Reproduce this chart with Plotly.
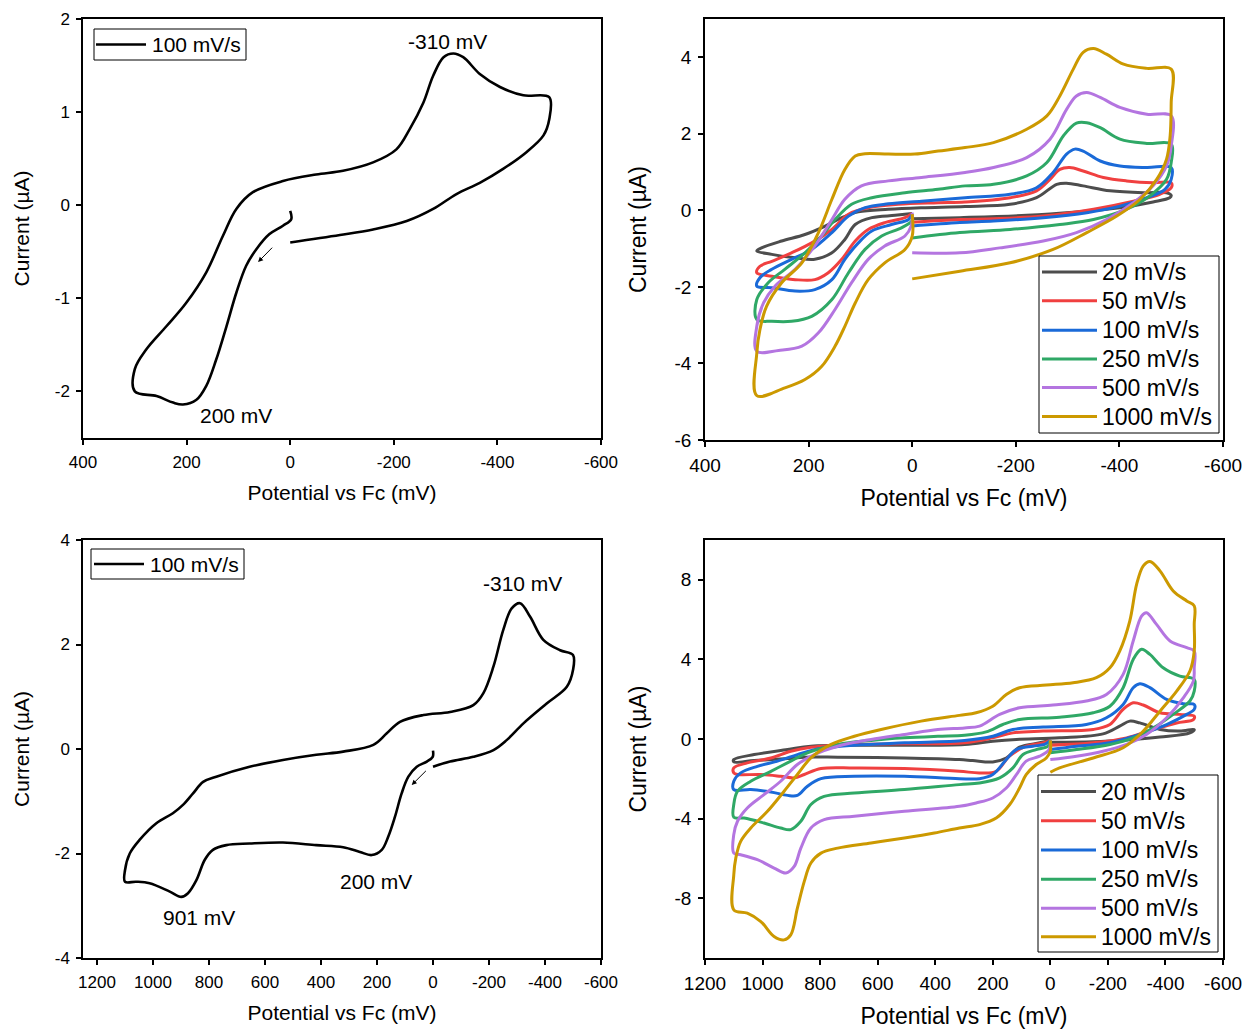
import plotly.graph_objects as go

# ---------------- Panel (a): top-left, 100 mV/s ----------------
tl_E = [0, -2, 14, 40, 65, 85, 104, 123, 143, 162, 181, 207, 226, 258, 300, 300, 278, 239, 201, 162, 130, 104, 72, 14,
        -50, -102, -160, -205, -231, -257, -276, -296, -315, -334, -366, -405, -450, -500, -500, -489, -456, -411, -366,
        -321, -276, -225, -160, -96, 0]
tl_I = [-0.06, -0.15, -0.22, -0.31, -0.47, -0.65, -0.94, -1.30, -1.66, -1.94, -2.09, -2.14, -2.12, -2.05, -2.00, -1.76,
        -1.55, -1.30, -1.05, -0.72, -0.33, -0.04, 0.14, 0.26, 0.33, 0.37, 0.46, 0.60, 0.82, 1.10, 1.39, 1.59, 1.63, 1.59,
        1.41, 1.27, 1.18, 1.16, 0.92, 0.75, 0.57, 0.39, 0.24, 0.12, -0.04, -0.17, -0.26, -0.32, -0.40]

# ---------------- Panel (b): top-right, scan-rate series ----------------
tr_E_20 = [0, 33, 78, 110, 130, 155, 188, 226, 271, 300, 291, 252, 207, 168, 136, 104, 46, -18, -102, -189, -240, -279,
           -298, -330, -382, -446, -491, -500, -497, -465, -401, -317, -221, -92, 0]
tr_I_20 = [-0.08, -0.13, -0.19, -0.37, -0.76, -1.11, -1.28, -1.24, -1.15, -1.06, -0.98, -0.80, -0.63, -0.41, -0.19,
           -0.04, 0.03, 0.07, 0.10, 0.16, 0.33, 0.68, 0.71, 0.64, 0.51, 0.46, 0.46, 0.39, 0.33, 0.22, 0.07, -0.04, -0.13,
           -0.19, -0.22]
tr_E_50 = [0, 14, 53, 85, 110, 136, 162, 188, 226, 271, 300, 294, 271, 233, 194, 155, 123, 85, 27, -50, -102, -189, -240,
           -266, -285, -304, -330, -369, -414, -465, -500, -500, -478, -427, -350, -253, -157, -92, 0]
tr_I_50 = [-0.08, -0.19, -0.32, -0.50, -0.80, -1.28, -1.63, -1.81, -1.81, -1.72, -1.63, -1.46, -1.33, -1.11, -0.85,
           -0.50, -0.10, 0.07, 0.16, 0.20, 0.22, 0.33, 0.51, 0.81, 1.07, 1.12, 1.03, 0.86, 0.77, 0.72, 0.72, 0.59, 0.42,
           0.24, 0.03, -0.15, -0.22, -0.24, -0.31]
tr_E_100 = [0, 7, 40, 78, 104, 130, 155, 188, 226, 271, 300, 294, 271, 233, 194, 155, 123, 91, 46, -18, -102, -189, -240,
            -272, -298, -314, -330, -363, -401, -453, -500, -500, -488, -453, -401, -337, -253, -157, -92, 0]
tr_I_100 = [-0.10, -0.24, -0.37, -0.54, -0.85, -1.28, -1.81, -2.07, -2.11, -2.02, -1.98, -1.76, -1.54, -1.28, -1.02,
            -0.58, -0.15, 0.07, 0.17, 0.24, 0.33, 0.42, 0.59, 0.99, 1.47, 1.60, 1.55, 1.29, 1.16, 1.12, 1.12, 0.81, 0.55,
            0.33, 0.11, -0.06, -0.19, -0.28, -0.32, -0.41]
tr_E_250 = [0, 1, 20, 59, 91, 123, 155, 194, 233, 271, 300, 300, 278, 246, 207, 175, 149, 117, 78, 14, -50, -102, -157,
            -221, -260, -292, -317, -337, -363, -401, -453, -500, -500, -491, -459, -414, -350, -285, -189, -92, 0]
tr_I_250 = [-0.10, -0.28, -0.45, -0.67, -1.02, -1.63, -2.33, -2.77, -2.90, -2.90, -2.85, -2.33, -1.89, -1.54, -1.11,
            -0.67, -0.24, 0.16, 0.33, 0.46, 0.55, 0.64, 0.68, 0.90, 1.25, 1.95, 2.28, 2.29, 2.16, 1.86, 1.75, 1.73, 1.25,
            0.81, 0.38, 0.03, -0.24, -0.37, -0.50, -0.58, -0.72]
tr_E_500 = [0, 2, 14, 53, 85, 117, 149, 181, 213, 258, 300, 300, 287, 265, 226, 188, 155, 130, 98, 46, -18, -102, -157,
            -221, -266, -298, -317, -337, -363, -401, -453, -500, -500, -491, -465, -427, -375, -317, -253, -169, -92, 0]
tr_I_500 = [-0.06, -0.41, -0.67, -0.93, -1.28, -1.89, -2.59, -3.20, -3.55, -3.66, -3.68, -3.03, -2.42, -1.98, -1.54,
            -0.93, -0.24, 0.29, 0.64, 0.77, 0.86, 0.99, 1.12, 1.38, 1.86, 2.64, 2.99, 3.08, 2.95, 2.69, 2.51, 2.47, 1.68,
            1.16, 0.64, 0.20, -0.24, -0.58, -0.80, -0.98, -1.11, -1.11]
tr_E_1000 = [0, 0, 14, 53, 85, 110, 130, 149, 175, 207, 246, 300, 300, 294, 281, 252, 213, 181, 155, 130, 110, 91, 46,
             -5, -50, -102, -157, -221, -260, -285, -311, -330, -350, -375, -408, -453, -500, -500, -498, -491, -472,
             -440, -395, -337, -272, -189, -92, 0]
tr_I_1000 = [-0.10, -0.67, -1.02, -1.37, -1.81, -2.42, -3.03, -3.55, -4.08, -4.42, -4.64, -4.84, -3.73, -3.12, -2.50,
             -1.89, -1.37, -0.58, 0.29, 1.07, 1.42, 1.48, 1.47, 1.47, 1.55, 1.64, 1.77, 2.12, 2.47, 2.99, 3.69, 4.13,
             4.23, 4.08, 3.82, 3.71, 3.69, 2.82, 1.95, 1.34, 0.81, 0.29, -0.15, -0.58, -1.02, -1.37, -1.59, -1.79]

# ---------------- Panel (c): bottom-left, 100 mV/s ----------------
bl_E = [0, 1, 22, 58, 88, 112, 136, 160, 183, 219, 261, 321, 417, 536, 655, 738, 786, 815, 845, 875, 899, 940, 1012,
        1060, 1100, 1100, 1083, 1048, 988, 929, 893, 857, 821, 774, 655, 536, 417, 321, 213, 165, 118, 34, -61, -144,
        -180, -216, -251, -281, -311, -347, -394, -454, -500, -500, -478, -406, -323, -263, -216, -144, -61, 0]
bl_I = [-0.03, -0.15, -0.24, -0.34, -0.53, -0.85, -1.30, -1.68, -1.93, -2.03, -1.97, -1.88, -1.84, -1.79, -1.81, -1.84,
        -1.93, -2.12, -2.51, -2.76, -2.83, -2.73, -2.57, -2.54, -2.54, -2.32, -2.00, -1.74, -1.42, -1.23, -1.07, -0.85,
        -0.63, -0.53, -0.34, -0.21, -0.11, -0.05, 0.08, 0.30, 0.52, 0.65, 0.71, 0.84, 1.07, 1.58, 2.28, 2.69, 2.79,
        2.53, 2.09, 1.89, 1.80, 1.51, 1.19, 0.87, 0.49, 0.17, -0.02, -0.15, -0.24, -0.34]

# ---------------- Panel (d): bottom-right, scan-rate series ----------------
br_E_20 = [0, 37, 107, 153, 200, 270, 316, 507, 739, 855, 913, 1029, 1100, 1100, 1029, 913, 832, 623, 298, 200, 118,
           -32, -183, -241, -276, -311, -381, -450, -500, -485, -381, -265, -149, 0]
br_I_20 = [-0.07, -0.19, -0.41, -0.95, -1.15, -1.08, -1.03, -0.95, -0.91, -0.91, -0.98, -1.08, -1.15, -1.03, -0.78,
           -0.53, -0.36, -0.31, -0.27, -0.11, -0.02, 0.06, 0.26, 0.65, 0.90, 0.81, 0.48, 0.40, 0.48, 0.31, 0.10, -0.05,
           -0.14, -0.16]
br_E_50 = [0, 26, 84, 142, 188, 246, 316, 507, 681, 797, 855, 890, 937, 1006, 1087, 1100, 1100, 1053, 971, 902, 832,
           681, 507, 298, 200, 130, 25, -149, -207, -253, -288, -323, -381, -450, -500, -497, -439, -358, -265, -149, 0]
br_I_50 = [-0.07, -0.19, -0.36, -0.86, -1.62, -1.70, -1.62, -1.48, -1.45, -1.48, -1.78, -1.95, -1.87, -1.78, -1.78,
           -1.70, -1.45, -1.20, -0.95, -0.61, -0.41, -0.27, -0.24, -0.19, 0.06, 0.31, 0.40, 0.48, 0.73, 1.49, 1.82, 1.71,
           1.32, 1.24, 1.15, 0.98, 0.81, 0.48, 0.06, -0.19, -0.31]
br_E_100 = [0, 20, 61, 118, 153, 200, 246, 316, 507, 681, 797, 844, 879, 913, 971, 1041, 1100, 1100, 1076, 1018, 948,
            879, 820, 681, 507, 298, 200, 130, 25, -125, -195, -253, -288, -311, -346, -404, -462, -500, -500, -474,
            -404, -311, -207, -91, 0]
br_I_100 = [-0.07, -0.27, -0.36, -0.53, -1.03, -1.78, -1.99, -1.99, -1.87, -1.87, -1.99, -2.37, -2.83, -2.83, -2.66,
            -2.54, -2.54, -2.12, -1.70, -1.37, -1.11, -0.78, -0.53, -0.31, -0.19, -0.07, 0.14, 0.48, 0.60, 0.73, 1.07,
            1.74, 2.58, 2.78, 2.58, 1.99, 1.77, 1.74, 1.49, 1.24, 0.73, 0.23, -0.19, -0.36, -0.53]
br_E_250 = [0, 8, 49, 95, 130, 176, 246, 316, 507, 681, 786, 832, 867, 902, 937, 995, 1064, 1100, 1100, 1087, 1041, 971,
            902, 844, 739, 623, 507, 391, 298, 223, 165, 107, -32, -149, -207, -253, -288, -317, -346, -392, -450, -500,
            -500, -485, -427, -358, -288, -207, -91, 0]
br_I_250 = [-0.07, -0.36, -0.53, -0.78, -1.45, -1.95, -2.21, -2.29, -2.54, -2.71, -2.88, -3.29, -4.13, -4.55, -4.47,
            -4.22, -3.97, -3.93, -3.29, -2.62, -2.12, -1.62, -1.11, -0.69, -0.27, -0.07, 0.06, 0.14, 0.19, 0.36, 0.73,
            0.98, 1.10, 1.32, 1.65, 2.58, 4.00, 4.51, 4.25, 3.58, 3.16, 3.00, 2.41, 1.91, 1.24, 0.56, 0.06, -0.27, -0.53,
            -0.69]
br_E_500 = [0, 4, 37, 84, 118, 153, 200, 258, 316, 507, 681, 786, 832, 867, 890, 919, 960, 1018, 1076, 1100, 1100, 1087,
            1053, 995, 937, 879, 820, 739, 623, 507, 391, 298, 246, 176, 107, -9, -125, -195, -253, -288, -317, -334,
            -369, -416, -474, -500, -500, -497, -462, -404, -334, -265, -183, -91, 0]
br_I_500 = [-0.07, -0.52, -0.86, -1.11, -1.79, -2.46, -2.96, -3.21, -3.38, -3.63, -3.88, -4.05, -4.47, -5.48, -6.40,
            -6.73, -6.48, -6.06, -5.81, -5.73, -4.80, -4.13, -3.46, -2.79, -2.12, -1.28, -0.78, -0.36, -0.02, 0.23, 0.48,
            0.56, 0.65, 1.24, 1.57, 1.71, 1.91, 2.24, 3.25, 4.93, 6.18, 6.35, 5.76, 4.93, 4.59, 4.42, 3.58, 2.91, 2.07,
            1.07, 0.23, -0.27, -0.61, -0.86, -1.03]
br_E_1000 = [0, 0, 14, 49, 84, 107, 141, 188, 246, 316, 403, 507, 623, 739, 797, 832, 855, 879, 902, 925, 960, 1006,
             1053, 1100, 1100, 1093, 1076, 1041, 983, 925, 879, 832, 762, 681, 588, 449, 316, 258, 200, 153, 107, 14,
             -79, -160, -207, -241, -276, -300, -323, -346, -381, -427, -474, -500, -500, -500, -485, -439, -381, -323,
             -253, -149, -32, 0]
br_I_1000 = [-0.07, -0.61, -0.95, -1.28, -1.79, -2.46, -3.29, -3.97, -4.30, -4.47, -4.72, -4.97, -5.22, -5.48, -5.73,
             -6.23, -7.15, -8.50, -9.84, -10.09, -9.92, -9.17, -8.75, -8.58, -6.82, -5.98, -5.14, -4.47, -3.63, -2.62,
             -1.78, -0.95, -0.27, 0.14, 0.48, 0.90, 1.19, 1.32, 1.65, 2.24, 2.58, 2.71, 2.83, 3.08, 3.58, 4.42, 5.93,
             7.78, 8.70, 8.92, 8.45, 7.44, 6.94, 6.69, 5.76, 4.42, 3.42, 2.41, 1.40, 0.40, -0.44, -0.95, -1.45, -1.67]

single_label = "100 mV/s"
rate_labels = ["20 mV/s", "50 mV/s", "100 mV/s", "250 mV/s", "500 mV/s", "1000 mV/s"]
rate_colors = ["#4d4d4d", "#f04040", "#1a6ad8", "#2fa866", "#b475e0", "#cc9900"]

# tick labels (hyphen minus as in the original)
tl_xticks = [400, 200, 0, -200, -400, -600]
tl_yticks = [2, 1, 0, -1, -2]
tr_yticks = [4, 2, 0, -2, -4, -6]
bl_xticks = [1200, 1000, 800, 600, 400, 200, 0, -200, -400, -600]
bl_yticks = [4, 2, 0, -2, -4]
br_yticks = [8, 4, 0, -4, -8]

FONT = "Liberation Sans, Arial, sans-serif"
W, H = 1248, 1029
fig = go.Figure()

LW_SINGLE = 2.6
LW_MULTI = 3
SMOOTH = 1.0

# panel a
fig.add_trace(go.Scatter(x=tl_E, y=tl_I, mode="lines", name=single_label, xaxis="x", yaxis="y", showlegend=False,
                         line=dict(color="black", width=LW_SINGLE, shape="spline", smoothing=SMOOTH)))
# panel b
tr_sets = [(tr_E_20, tr_I_20), (tr_E_50, tr_I_50), (tr_E_100, tr_I_100), (tr_E_250, tr_I_250),
           (tr_E_500, tr_I_500), (tr_E_1000, tr_I_1000)]
for (E, I), lab, col in zip(tr_sets, rate_labels, rate_colors):
    fig.add_trace(go.Scatter(x=E, y=I, mode="lines", name=lab, xaxis="x2", yaxis="y2", showlegend=False,
                             line=dict(color=col, width=LW_MULTI, shape="spline", smoothing=SMOOTH)))
# panel c
fig.add_trace(go.Scatter(x=bl_E, y=bl_I, mode="lines", name=single_label, xaxis="x3", yaxis="y3", showlegend=False,
                         line=dict(color="black", width=LW_SINGLE, shape="spline", smoothing=SMOOTH)))
# panel d
br_sets = [(br_E_20, br_I_20), (br_E_50, br_I_50), (br_E_100, br_I_100), (br_E_250, br_I_250),
           (br_E_500, br_I_500), (br_E_1000, br_I_1000)]
for (E, I), lab, col in zip(br_sets, rate_labels, rate_colors):
    fig.add_trace(go.Scatter(x=E, y=I, mode="lines", name=lab, xaxis="x4", yaxis="y4", showlegend=False,
                             line=dict(color=col, width=LW_MULTI, shape="spline", smoothing=SMOOTH)))


def ax(domain, rng, ticks, tick_size, title, title_size, anchor, standoff, lab_standoff):
    return dict(domain=domain, range=rng, anchor=anchor, tickvals=ticks, ticktext=[str(t) for t in ticks],
                ticks="outside", ticklen=5, tickwidth=1.5, tickcolor="black", showline=True, linewidth=1.5,
                linecolor="black", mirror=True, showgrid=False, zeroline=False, automargin=False,
                ticklabelstandoff=lab_standoff,
                tickfont=dict(family=FONT, size=tick_size, color="black"),
                title=dict(text=title, font=dict(family=FONT, size=title_size, color="black"), standoff=standoff))


XT = "Potential vs Fc (mV)"
YT = "Current (µA)"
dxL = [83 / W, 601 / W]
dxR = [705 / W, 1223 / W]
dyT = [1 - 438 / H, 1 - 19 / H]
dyTR = [1 - 440 / H, 1 - 19 / H]
dyB = [1 - 958 / H, 1 - 540 / H]

fig.update_layout(
    width=W, height=H, margin=dict(l=0, r=0, t=0, b=0),
    paper_bgcolor="white", plot_bgcolor="white",
    font=dict(family=FONT, color="black"),
    showlegend=False,
    xaxis=ax(dxL, [400, -600], tl_xticks, 17, XT, 21, "y", 14, 3),
    yaxis=ax(dyT, [-2.5, 2], tl_yticks, 17, YT, 21, "x", 19, 3),
    xaxis2=ax(dxR, [400, -600], tl_xticks, 19, XT, 23, "y2", 15, 2),
    yaxis2=ax(dyTR, [-6, 5], tr_yticks, 19, YT, 23, "x2", 21, 3),
    xaxis3=ax(dxL, [1250, -600], bl_xticks, 17, XT, 21, "y3", 14, 3),
    yaxis3=ax(dyB, [-4, 4], bl_yticks, 17, YT, 21, "x3", 19, 3),
    xaxis4=ax(dxR, [1200, -600], bl_xticks, 19, XT, 23, "y4", 16, 2),
    yaxis4=ax(dyB, [-11, 10], br_yticks, 19, YT, 23, "x4", 21, 3),
)

# ---- legends drawn as boxed key lines + text (paper coordinates) ----
def px_x(v):
    return v / W


def px_y(v):
    return 1 - v / H


def add_legend(box, line_x0, line_x1, text_x, row_ys, labels, colors, font_size, lw):
    fig.add_shape(type="rect", xref="paper", yref="paper", x0=px_x(box[0]), x1=px_x(box[1]),
                  y0=px_y(box[3]), y1=px_y(box[2]), line=dict(color="black", width=1), fillcolor="white",
                  layer="above")
    for ry, lab, col in zip(row_ys, labels, colors):
        fig.add_shape(type="line", xref="paper", yref="paper", x0=px_x(line_x0), x1=px_x(line_x1),
                      y0=px_y(ry), y1=px_y(ry), line=dict(color=col, width=lw), layer="above")
        fig.add_annotation(x=px_x(text_x), y=px_y(ry), xref="paper", yref="paper", text=lab, showarrow=False,
                           xanchor="left", yanchor="middle", font=dict(family=FONT, size=font_size, color="black"))


add_legend((94, 246, 29, 60), 96, 146, 150, [44.5], [single_label], ["black"], 21, LW_SINGLE)
add_legend((91, 244, 549, 579), 94, 144, 148, [564], [single_label], ["black"], 21, LW_SINGLE)
add_legend((1039, 1219, 256, 433), 1042, 1097, 1100, [272, 300.7, 330.2, 359, 387.5, 416.5], rate_labels,
           rate_colors, 23, LW_MULTI)
add_legend((1038, 1218, 775, 952), 1041, 1096, 1099, [791.5, 820.8, 850, 879.3, 908.3, 936.7], rate_labels,
           rate_colors, 23, LW_MULTI)

ann_font = dict(family=FONT, size=21, color="black")
fig.add_annotation(x=-303, y=1.76, xref="x", yref="y", text="-310 mV", showarrow=False, font=ann_font)
fig.add_annotation(x=105, y=-2.26, xref="x", yref="y", text="200 mV", showarrow=False, font=ann_font)
fig.add_annotation(x=62, y=-0.61, ax=32, ay=-0.44, xref="x", yref="y", axref="x", ayref="y", text="",
                   showarrow=True, arrowhead=2, arrowsize=1, arrowwidth=1, arrowcolor="black")
fig.add_annotation(x=-321, y=3.16, xref="x3", yref="y3", text="-310 mV", showarrow=False, font=ann_font)
fig.add_annotation(x=204, y=-2.53, xref="x3", yref="y3", text="200 mV", showarrow=False, font=ann_font)
fig.add_annotation(x=836, y=-3.23, xref="x3", yref="y3", text="901 mV", showarrow=False, font=ann_font)
fig.add_annotation(x=76, y=-0.69, ax=20, ay=-0.39, xref="x3", yref="y3", axref="x3", ayref="y3", text="",
                   showarrow=True, arrowhead=2, arrowsize=1, arrowwidth=1, arrowcolor="black")

fig.write_html("out.html")
